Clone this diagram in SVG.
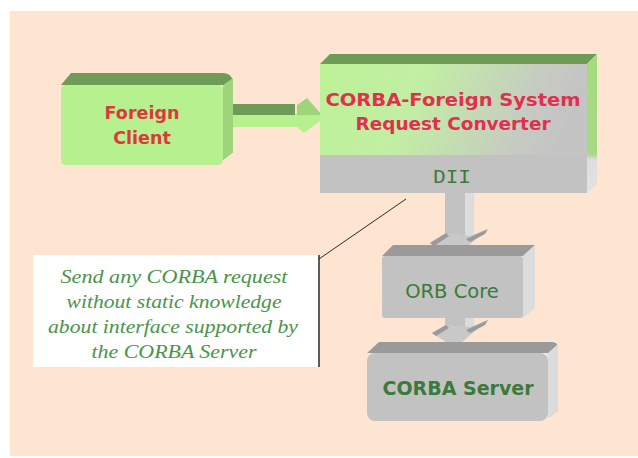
<svg xmlns="http://www.w3.org/2000/svg" width="638" height="458" viewBox="0 0 638 458">
  <defs>
    <linearGradient id="convFace" x1="0" y1="0" x2="1" y2="0.15">
      <stop offset="0" stop-color="#bdf296"/>
      <stop offset="0.4" stop-color="#c2eea4"/>
      <stop offset="0.85" stop-color="#c6cac2"/>
      <stop offset="1" stop-color="#c4c4c4"/>
    </linearGradient>
    <linearGradient id="convSide" x1="0" y1="0" x2="0" y2="1">
      <stop offset="0" stop-color="#a4dc7c"/>
      <stop offset="0.72" stop-color="#a8d884"/>
      <stop offset="0.76" stop-color="#dedede"/>
      <stop offset="1" stop-color="#e2e2e2"/>
    </linearGradient>
    <style>
      .face-green { fill: #b7f08e; }
      .top-green { fill: #6e9c56; }
      .side-green { fill: #9ed47a; }
      .face-grey { fill: #c2c2c2; }
      .top-grey { fill: #9a9a9a; }
      .side-grey { fill: #dcdcdc; }
      .red { font-family: "DejaVu Sans", "Liberation Sans", sans-serif; font-weight: bold; fill: #dc3a3a; text-anchor: middle; }
      .pink { font-family: "DejaVu Sans", "Liberation Sans", sans-serif; font-weight: bold; fill: #e0304e; text-anchor: middle; }
      .green { font-family: "DejaVu Sans", "Liberation Sans", sans-serif; fill: #3c7a3c; text-anchor: middle; }
      .note { font-family: "Liberation Serif", "DejaVu Serif", serif; font-style: italic; fill: #4a944a; text-anchor: middle; font-size: 18px; }
    </style>
  </defs>

  <!-- canvas -->
  <rect x="0" y="0" width="638" height="458" fill="#ffffff"/>
  <rect x="10" y="11" width="628" height="445" fill="#fde5d1"/>

  <!-- connectors -->
  <g id="connectors">
    <!-- client to converter, 3D block arrow -->
    <g id="arrow-client-converter">
      <rect x="223" y="114" width="78" height="13" class="face-green"/>
      <polygon points="223,115 295,115 295,104 230,104" class="top-green"/>
      <polygon points="297,105 307,98 322,115 297,115" class="side-green"/>
      <polygon points="297,115 322,115 320,121 304,133 297,127" class="face-green"/>
    </g>
    <!-- converter to ORB core -->
    <g id="arrow-dii-orb">
      <rect x="445" y="193" width="20" height="46" class="face-grey"/>
      <rect x="465" y="193" width="9" height="44" class="side-grey"/>
      <polygon points="430,243 446,233 470,236 488,229 455,257" fill="#c8c8c8"/>
      <polygon points="430,243 446,233 449,236 434,246" class="top-grey"/>
      <polygon points="466,239 488,229 485,234 470,242" class="top-grey"/>
    </g>
    <!-- ORB core to server -->
    <g id="arrow-orb-server">
      <rect x="445" y="318" width="20" height="12" class="face-grey"/>
      <rect x="465" y="318" width="9" height="10" class="side-grey"/>
      <polygon points="432,333 446,325 470,327 488,320 455,348" fill="#c8c8c8"/>
      <polygon points="432,333 446,325 449,328 436,336" class="top-grey"/>
      <polygon points="466,330 488,320 485,325 470,333" class="top-grey"/>
    </g>
    <!-- callout leader from note to DII -->
    <line x1="319" y1="255" x2="319" y2="367" stroke="#2a2a2a" stroke-width="1.5"/>
    <line x1="319" y1="259" x2="406" y2="199" stroke="#2a2a2a" stroke-width="1"/>
  </g>

  <!-- Foreign Client -->
  <g id="node-foreign-client">
    <path d="M71,73 L222,73 Q233,73 233,84 L233,152 L223,160 L223,85 L61,85 Z" class="top-green"/>
    <path d="M223,85 L233,78 Q233,80 233,90 L233,152 L223,160 Z" class="side-green"/>
    <rect x="61" y="85" width="162" height="80" rx="5" class="face-green"/>
    <text x="142" y="119" class="red" font-size="17.5">Foreign</text>
    <text x="142" y="144" class="red" font-size="17.5">Client</text>
  </g>

  <!-- CORBA-Foreign System Request Converter with DII layer -->
  <g id="node-converter">
    <polygon points="320,64 330,54 597,54 587,64" class="top-green"/>
    <polygon points="587,64 597,54 597,184 587,193" fill="url(#convSide)"/>
    <rect x="320" y="64" width="267" height="91" fill="url(#convFace)"/>
    <rect x="320" y="155" width="267" height="38" class="face-grey"/>
    <text x="453" y="106" class="pink" font-size="18" textLength="255" lengthAdjust="spacingAndGlyphs">CORBA-Foreign System</text>
    <text x="453" y="130" class="pink" font-size="18" textLength="195" lengthAdjust="spacingAndGlyphs">Request Converter</text>
    <text x="452" y="183" font-family="Liberation Mono, DejaVu Sans Mono, monospace" font-size="21" fill="#3c7a3c" text-anchor="middle">DII</text>
  </g>

  <!-- ORB Core -->
  <g id="node-orb-core">
    <polygon points="382,256 393,245 535,245 523,256" class="top-grey"/>
    <polygon points="523,256 535,245 535,308 523,318" class="side-grey"/>
    <rect x="382" y="256" width="141" height="62" rx="3" class="face-grey"/>
    <text x="452" y="298" class="green" font-size="19.5">ORB Core</text>
  </g>

  <!-- CORBA Server -->
  <g id="node-corba-server">
    <path d="M367,353 L379,342 L552,342 Q558,342 558,348 L558,410 L548,418 L548,353 Z" class="top-grey"/>
    <polygon points="548,353 558,344 558,410 548,418" class="side-grey"/>
    <rect x="367" y="353" width="181" height="68" rx="8" class="face-grey"/>
    <text x="458" y="395" class="green" font-size="19" font-weight="bold" fill="#2e7a2e">CORBA Server</text>
  </g>

  <!-- explanatory note -->
  <g id="node-note">
    <rect x="33" y="255" width="285" height="112" fill="#ffffff"/>
    <text x="174" y="283" class="note" textLength="227" lengthAdjust="spacingAndGlyphs">Send any CORBA request</text>
    <text x="174" y="308" class="note" textLength="215" lengthAdjust="spacingAndGlyphs">without static knowledge</text>
    <text x="173" y="333" class="note" textLength="250" lengthAdjust="spacingAndGlyphs">about interface supported by</text>
    <text x="174" y="358" class="note" textLength="165" lengthAdjust="spacingAndGlyphs">the CORBA Server</text>
  </g>
</svg>
